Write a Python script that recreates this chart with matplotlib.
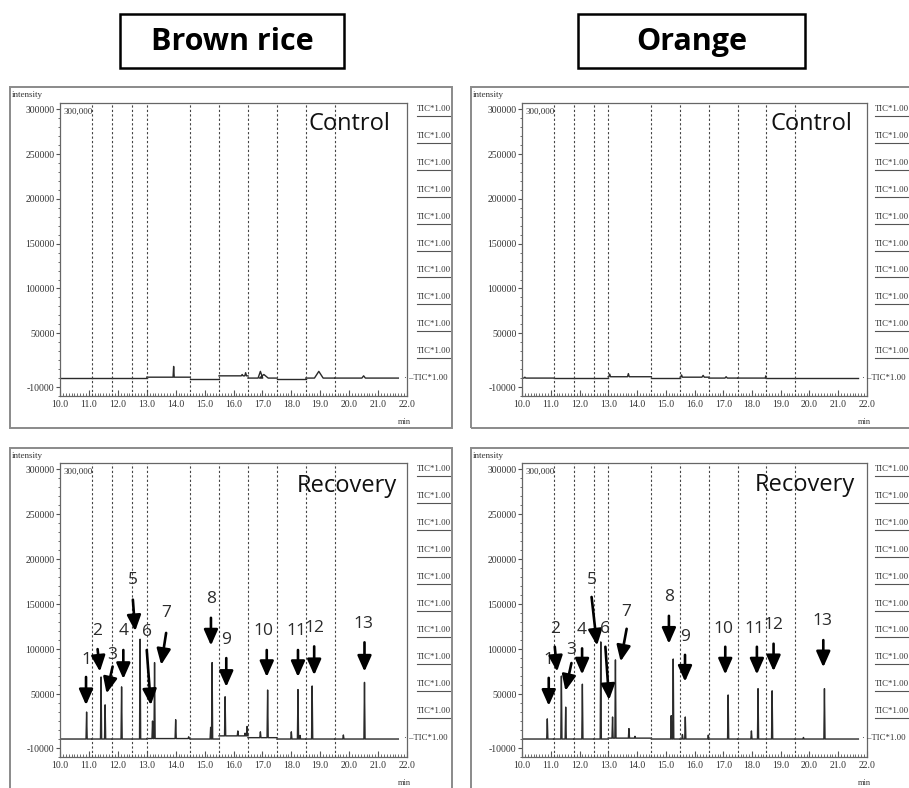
# Cromatogramas GC-MS: arroz integral y naranja (control y recuperación)
import numpy as np
import matplotlib.pyplot as plt
from matplotlib.patches import Rectangle
from matplotlib.lines import Line2D
from matplotlib.ticker import MultipleLocator

# Límites de los segmentos SIM (min) y líneas verticales punteadas
seg_edges = [10.0, 11.1, 11.8, 12.5, 13.0, 14.5, 15.5, 16.5, 17.5, 18.5, 19.5, 21.7]
dash_lines = [11.1, 11.8, 12.5, 13.0, 14.5, 15.5, 16.5, 17.5, 18.5, 19.5]

# Arroz integral - control
br_ctrl_level = [0, 0, 0, 0, 1000, -1000, 2500, 0, -1000, 0, 0]
br_ctrl_rt = [13.93, 16.30, 16.42, 16.93, 17.05, 18.95, 20.50]
br_ctrl_h = [13000, 4000, 6000, 7500, 4000, 7500, 2500]
br_ctrl_w = [0.02, 0.03, 0.03, 0.08, 0.15, 0.15, 0.06]

# Arroz integral - recuperación
br_rec_level = [0, 0, 0, 0, 500, 0, 3500, 1500, 0, 0, 0]
br_rec_rt = [10.92, 11.42, 11.56, 12.13, 12.77, 13.20, 13.27, 14.00, 14.45, 15.21, 15.26,
             15.71, 16.15, 16.40, 16.47, 16.93, 17.18, 18.00, 18.23, 18.30, 18.72, 19.80, 20.53]
br_rec_h = [30000, 69000, 38000, 58000, 111000, 20000, 85000, 21500, 2500, 13000, 85000,
            47000, 9000, 6500, 14000, 8000, 54500, 8000, 55000, 4000, 59000, 4500, 63000]

# Naranja - control
or_ctrl_level = [0, 0, 0, 0, 1500, 0, 1000, 0, 0, 0, 0]
or_ctrl_rt = [10.10, 13.05, 13.70, 15.55, 16.30, 17.10, 18.48]
or_ctrl_h = [1000, 4500, 5000, 3500, 3000, 1500, 2500]
or_ctrl_w = [0.03, 0.03, 0.03, 0.03, 0.04, 0.04, 0.02]

# Naranja - recuperación
or_rec_level = [0, 0, 0, 0, 1000, 0, 0, 0, 0, 0, 0]
or_rec_rt = [10.88, 11.37, 11.52, 12.10, 12.74, 13.15, 13.25, 13.72, 13.93, 15.19, 15.26,
             15.58, 15.68, 16.48, 17.17, 17.98, 18.21, 18.70, 19.79, 20.52]
or_rec_h = [22400, 70000, 35500, 61000, 108000, 24500, 88000, 11600, 3000, 26000, 89000,
            5000, 24500, 4400, 49000, 9000, 56000, 53600, 1700, 56000]

# Etiquetas de picos y flechas
peak_labels = ['1', '2', '3', '4', '5', '6', '7', '8', '9', '10', '11', '12', '13']

br_lab_x = [10.90, 11.29, 11.82, 12.19, 12.52, 13.00, 13.67, 15.22, 15.75, 17.04, 18.17, 18.79, 20.50]
br_lab_y = [88000, 120000, 94000, 120000, 177000, 119000, 140000, 156000, 110000, 120600, 120600, 123600, 128000]
br_arr_x0 = [10.90, 11.30, 11.82, 12.19, 12.52, 13.00, 13.67, 15.22, 15.75, 17.15, 18.23, 18.79, 20.53]
br_arr_y0 = [69000, 100000, 80600, 99000, 155000, 99000, 118000, 134800, 90000, 99000, 99000, 103000, 107500]
br_arr_x1 = [10.90, 11.38, 11.61, 12.19, 12.60, 13.14, 13.50, 15.22, 15.75, 17.15, 18.23, 18.79, 20.53]
br_arr_y1 = [37700, 75000, 50700, 66800, 120000, 37700, 82500, 104000, 58000, 69000, 69000, 71000, 75000]

or_lab_x = [10.91, 11.14, 11.72, 12.09, 12.42, 12.88, 13.61, 15.11, 15.67, 17.00, 18.08, 18.75, 20.45]
or_lab_y = [88000, 122600, 99000, 120800, 177000, 122600, 141500, 158000, 114000, 122600, 122600, 127000, 131000]
or_arr_x0 = [10.93, 11.14, 11.72, 12.09, 12.42, 12.90, 13.64, 15.11, 15.67, 17.07, 18.17, 18.75, 20.48]
or_arr_y0 = [68000, 102600, 84500, 100800, 158000, 102600, 122600, 137000, 93600, 102600, 102600, 106000, 110000]
or_arr_x1 = [10.93, 11.22, 11.51, 12.09, 12.61, 13.03, 13.43, 15.11, 15.67, 17.07, 18.17, 18.75, 20.48]
or_arr_y1 = [37000, 75000, 53600, 71800, 104000, 43500, 86300, 106000, 63800, 71800, 71800, 75400, 79800]

y_ticks = [-10000, 50000, 100000, 150000, 200000, 250000, 300000]
x_ticks = [10, 11, 12, 13, 14, 15, 16, 17, 18, 19, 20, 21, 22]

W, H = 909, 788
fig = plt.figure(figsize=(W / 100, H / 100), dpi=100)
SERIF = 'Liberation Serif'
SANS = 'Open Sans'


def fx(px):
    return px / W


def fy(py):
    return 1 - py / H


def segments(levels, rts, heights, widths):
    # devuelve una lista de (xs, ys) por segmento
    out = []
    for i in range(len(seg_edges) - 1):
        a, b = seg_edges[i], seg_edges[i + 1]
        lv = levels[i]
        xs, ys = [a], [lv]
        for rt, h, w in sorted(zip(rts, heights, widths)):
            if a <= rt < b:
                xs += [rt - w, rt, rt + w]
                ys += [lv, h, lv]
        xs.append(b)
        ys.append(lv)
        out.append((xs, ys))
    return out


def panel(ax_px, frame_px, levels, rts, heights, widths, name, name_x, name_y):
    x0, y0, x1, y1 = ax_px
    ax = fig.add_axes([fx(x0), fy(y1), fx(x1 - x0), (y1 - y0) / H])
    for xs, ys in segments(levels, rts, heights, widths):
        ax.plot(xs, ys, color='#2a2a2a', lw=1.0)
    for d in dash_lines:
        ax.axvline(d, color='#444444', lw=0.8, ls=(0, (2, 2)))
    ax.set_xlim(10, 22)
    ax.set_ylim(-20000, 307000)
    ax.set_xticks(x_ticks)
    ax.set_xticklabels([f'{v:.1f}' for v in x_ticks], fontsize=7, family=SERIF, color='#333333')
    ax.set_yticks(y_ticks)
    ax.set_yticklabels([str(v) for v in y_ticks], fontsize=7, family=SERIF, color='#333333')
    ax.xaxis.set_minor_locator(MultipleLocator(0.1))
    ax.yaxis.set_minor_locator(MultipleLocator(10000))
    ax.tick_params(axis='x', which='both', direction='in', color='#555555', pad=3)
    ax.tick_params(axis='x', which='major', length=4)
    ax.tick_params(axis='x', which='minor', length=2)
    ax.tick_params(axis='y', which='major', direction='out', length=3, color='#555555', pad=1)
    ax.tick_params(axis='y', which='minor', direction='out', length=1.5, color='#555555')
    for s in ax.spines.values():
        s.set_color('#666666')
        s.set_linewidth(0.9)
    ax.text(10.12, 297000, '300,000', fontsize=6.5, family=SERIF, va='center', color='#333333')
    ax.text(name_x, name_y, name, fontsize=17, family=SANS, ha='right', va='center', color='#111111')

    # marco exterior del panel
    l, t, r, b = frame_px
    fig.add_artist(Rectangle((fx(l), fy(b)), fx(r - l), (b - t) / H, transform=fig.transFigure,
                             fill=False, ec='#8a8a8a', lw=1.4))
    fig.text(fx(l + 2), fy(t + 8), 'intensity', fontsize=6.5, family=SERIF, va='center', color='#333333')
    fig.text(fx(x1 - 9), fy(y1 + 26), 'min', fontsize=6, family=SERIF, va='center', color='#333333')

    # etiquetas TIC*1.00 a la derecha (que quepan dentro de la figura)
    tx = min(x1 + 10, W - 34)
    top_y = y0 + 6
    bot_y = y0 + 275
    for k in range(11):
        ty = top_y + k * (bot_y - top_y) / 10
        if k < 10:
            fig.text(fx(tx), fy(ty), 'TIC*1.00', fontsize=6.3, family=SERIF, va='center', color='#333333')
            fig.add_artist(Line2D([fx(tx), fx(tx + 33)], [fy(ty + 7), fy(ty + 7)],
                                  transform=fig.transFigure, color='#555555', lw=0.8))
        else:
            fig.text(fx(tx - 13), fy(ty), '· –TIC*1.00', fontsize=6.3, family=SERIF, va='center',
                     color='#333333')
    return ax


def label_peaks(ax, lab_x, lab_y, ax0, ay0, ax1, ay1):
    for i, lab in enumerate(peak_labels):
        ax.text(lab_x[i], lab_y[i], lab, fontsize=12.5, family=SANS, ha='center', va='center',
                color='#2b2b2b')
        ax.annotate('', xy=(ax1[i], ay1[i]), xytext=(ax0[i], ay0[i]),
                    arrowprops=dict(arrowstyle='-|>,head_width=0.42,head_length=0.95',
                                    color='black', lw=1.9, shrinkA=0, shrinkB=0,
                                    mutation_scale=10))


# Paneles superiores (control)
panel((60, 103, 407, 396), (10, 87, 452, 428), br_ctrl_level, br_ctrl_rt, br_ctrl_h, br_ctrl_w,
      'Control', 21.42, 284000)
panel((522, 103, 867, 396), (471, 87, 915, 428), or_ctrl_level, or_ctrl_rt, or_ctrl_h, or_ctrl_w,
      'Control', 21.48, 284000)

# Paneles inferiores (recuperación)
ax_br = panel((60, 463, 407, 757), (10, 448, 452, 795), br_rec_level, br_rec_rt, br_rec_h,
              [0.02] * len(br_rec_rt), 'Recovery', 21.65, 281000)
label_peaks(ax_br, br_lab_x, br_lab_y, br_arr_x0, br_arr_y0, br_arr_x1, br_arr_y1)
ax_or = panel((522, 463, 867, 757), (471, 448, 915, 795), or_rec_level, or_rec_rt, or_rec_h,
              [0.02] * len(or_rec_rt), 'Recovery', 21.6, 282000)
label_peaks(ax_or, or_lab_x, or_lab_y, or_arr_x0, or_arr_y0, or_arr_x1, or_arr_y1)

# Títulos en recuadro
for title, l, r in [('Brown rice', 120, 344), ('Orange', 578, 805)]:
    fig.add_artist(Rectangle((fx(l), fy(68)), fx(r - l), 54 / H, transform=fig.transFigure,
                             fill=False, ec='black', lw=1.8))
    fig.text(fx((l + r) / 2), fy(42), title, fontsize=22, family=SANS, weight='bold',
             ha='center', va='center', color='black')

fig.savefig('out.png', dpi=100)
